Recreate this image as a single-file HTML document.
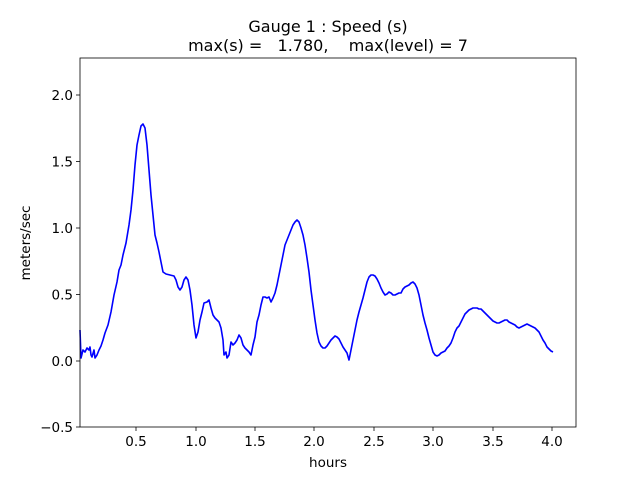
<!DOCTYPE html>
<html><head><meta charset="utf-8"><style>
body{margin:0;background:#fff;}
svg{display:block;font-family:"DejaVu Sans","Liberation Sans",sans-serif;}
</style></head><body>
<svg width="640" height="480" viewBox="0 0 640 480" xmlns="http://www.w3.org/2000/svg">
<rect width="640" height="480" fill="#fff"/>
<text x="328" y="32" font-size="16" text-anchor="middle">Gauge 1 : Speed (s)</text>
<text x="328" y="51" font-size="16" text-anchor="middle" xml:space="preserve">max(s) =   1.780,    max(level) = 7</text>
<g stroke="#000" stroke-width="0.8">
<line x1="136" y1="427" x2="136" y2="431"/><line x1="196" y1="427" x2="196" y2="431"/><line x1="255" y1="427" x2="255" y2="431"/><line x1="314" y1="427" x2="314" y2="431"/><line x1="374" y1="427" x2="374" y2="431"/><line x1="433" y1="427" x2="433" y2="431"/><line x1="493" y1="427" x2="493" y2="431"/><line x1="552" y1="427" x2="552" y2="431"/>
<line x1="76" y1="427" x2="80" y2="427"/><line x1="76" y1="361" x2="80" y2="361"/><line x1="76" y1="294.5" x2="80" y2="294.5"/><line x1="76" y1="228" x2="80" y2="228"/><line x1="76" y1="161.5" x2="80" y2="161.5"/><line x1="76" y1="95" x2="80" y2="95"/>
</g>
<g font-size="13.5" text-anchor="middle">
<text x="136" y="446">0.5</text><text x="196" y="446">1.0</text><text x="255" y="446">1.5</text><text x="314" y="446">2.0</text><text x="374" y="446">2.5</text><text x="433" y="446">3.0</text><text x="493" y="446">3.5</text><text x="552" y="446">4.0</text>
<text x="328" y="467">hours</text>
</g>
<g font-size="13.5" text-anchor="end">
<text x="73" y="432">−0.5</text><text x="73" y="366">0.0</text><text x="73" y="299.5">0.5</text><text x="73" y="233">1.0</text><text x="73" y="166.5">1.5</text><text x="73" y="100">2.0</text>
</g>
<text transform="translate(30,243) rotate(-90)" font-size="13.5" text-anchor="middle">meters/sec</text>
<polyline fill="none" stroke="#0000ff" stroke-width="1.6" stroke-linejoin="round" points="80,330 81,358 83,350 85,352 87,348 89,350 90,347 91,355 92,357 94,350 95,358 97,355 99,350 101,346 103,340 105,333 108,325 111,312 114,295 117,282 119,270 121,265 123,255 126,243 129,225 131,210 133,190 135,165 137,145 139,135 141,126 143,124 145,128 147,145 149,170 151,195 153,215 155,235 157,243 159,252 161,262 163,272 166,274 170,275 174,276 176,280 178,287 180,290 182,287 184,280 186,277 188,280 190,290 192,305 194,325 196,338 198,332 200,320 202,312 204,303 207,302 209,300 211,308 213,315 215,318 217,320 219,322 221,328 223,340 224,355 226,352 227,358 229,355 231,342 233,345 235,343 237,340 239,335 241,338 243,345 245,348 247,350 249,352 251,355 253,345 255,337 257,322 259,315 261,305 263,297 265,297 267,298 269,297 271,302 273,298 275,293 277,285 279,275 281,265 283,255 285,245 287,240 289,235 291,230 293,225 295,222 297,220 299,222 301,228 303,235 305,245 307,258 309,272 311,290 313,305 315,320 317,333 319,342 321,346 323,348 325,348 327,346 329,343 331,340 333,338 335,336 337,337 339,339 341,343 343,347 345,350 347,353 349,360 351,350 353,340 355,330 357,320 359,312 361,305 363,298 365,290 367,282 369,277 371,275 373,275 375,276 377,279 379,283 381,288 383,292 385,295 387,294 389,292 391,293 393,295 395,295 397,294 399,293 401,293 403,289 405,287 407,286 409,285 411,283 413,282 415,284 417,288 419,295 421,305 423,315 425,323 427,330 429,338 431,345 433,352 435,355 437,356 439,355 441,353 443,352 445,351 447,348 449,346 451,343 453,338 455,332 457,328 459,326 461,322 463,318 465,314 467,312 469,310 471,309 473,308 475,308 477,308 479,309 481,309 483,311 485,313 487,315 489,317 491,319 493,321 495,322 497,323 499,323 501,322 503,321 505,320 507,320 509,322 511,323 513,324 515,325 517,327 519,328 521,327 523,326 525,325 527,324 529,325 531,326 533,327 535,328 537,330 539,332 541,336 543,340 545,343 547,347 549,349 551,351 553,352"/>
<rect x="80" y="58" width="496" height="369" fill="none" stroke="#000" stroke-width="0.8"/>
</svg>
</body></html>
